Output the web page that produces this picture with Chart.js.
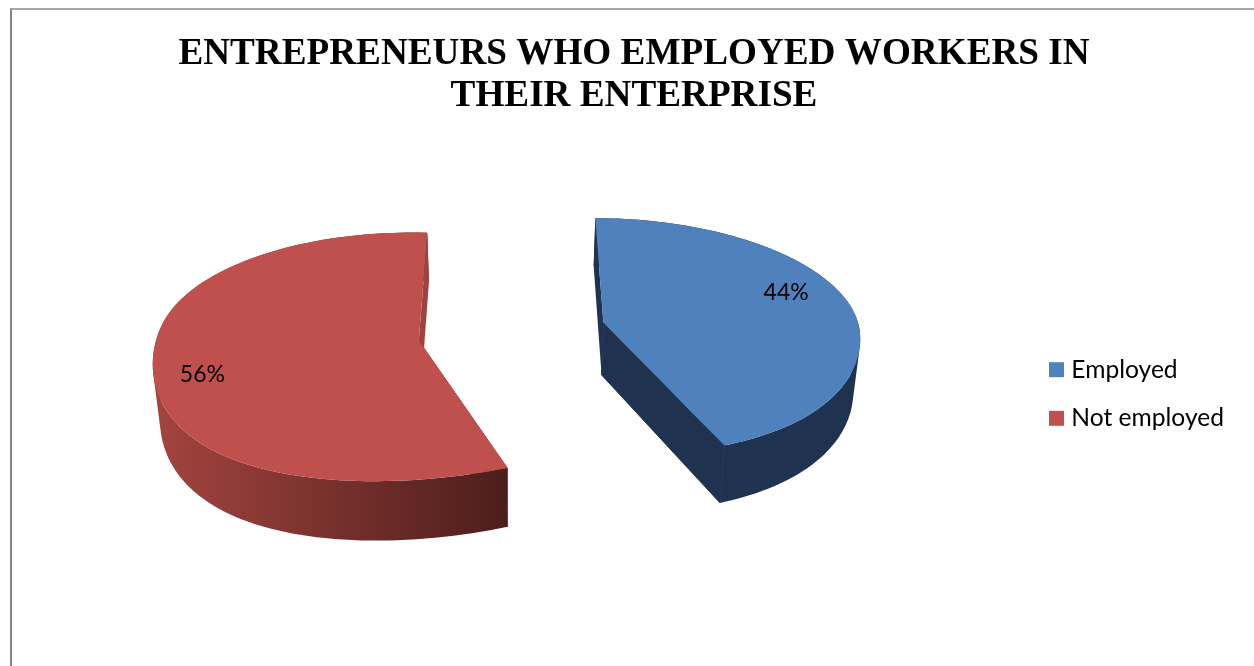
<!DOCTYPE html>
<html>
<head>
<meta charset="utf-8">
<script src="https://cdn.jsdelivr.net/npm/chart.js@4/dist/chart.umd.min.js"></script>
<style>
  html, body { margin: 0; padding: 0; background: #fff; overflow: hidden; }
  #frame { position: absolute; left: 10px; top: 8px; width: 1244px; height: 658px;
           border-left: 2px solid #868686; border-top: 2px solid #a6a6a6; box-sizing: border-box; }
  canvas { display: block; }
</style>
</head>
<body>
<div id="frame"><canvas id="pie" width="1242" height="656"></canvas></div>
<script>
const categories = ['Employed', 'Not employed'];
const shares = [44, 56];
const titleLines = ['ENTREPRENEURS WHO EMPLOYED WORKERS IN', 'THEIR ENTERPRISE'];
const topColors = ['#4f81bd', '#c0504d'];
const wallStart = ['#1f3350', '#a4443f'];
const wallEnd = ['#1f3350', '#4c1e1b'];
const cutWalls = ['#1f3350', '#a04340'];
const labelSpotU = [0.745, -0.775];
const labelSpotV = [-0.27, 0.295];

// Camera used to lay the flat pie down as a tilted disc with some thickness.
const view = {
  cx: 500, cy: 322.5,    // vanishing centre of the disc
  squash: 0.45,          // vertical foreshortening
  depth: 2650,           // perspective distance front-to-back
  side: 50000,           // perspective distance left-to-right
  thick: 53,             // height of the disc wall
  taper: 0.02,           // how much the lower rim narrows
  burst: 94,             // distance each slice is pulled out
  burstTilt: 1.28,       // front/back share of that pull
  flareX: 1.46e-6,       // widening of the near part of the disc
  skewX: 1.08e-4,        // lean of the near part of the disc
  dropNear: 5e-5,        // extra drop of the near part
  dropRight: 3.8e-7,     // extra drop of the near right part
  dropLeft: 5.4e-7,      // extra drop of the near left part
  liftLeft: 0.023,       // lift of the whole left side
  pinchLeft: 2.4e-5      // narrowing of the far left side
};

function project(u, v, lower) {
  const w = 1 - v / view.depth + u / view.side;
  const k = lower ? 1 - view.taper : 1;
  const near = Math.max(v, 0) ** 2;
  const rightward = Math.max(u, 0), leftward = Math.max(-u, 0);
  const du = u * near * view.flareX - near * view.skewX + leftward * leftward * view.pinchLeft;
  const dv = near * (view.dropNear + rightward * view.dropRight + leftward * view.dropLeft)
           - leftward * view.liftLeft;
  return {
    x: view.cx + ((u + du) * k) / w,
    y: view.cy + (view.squash * v + dv + (lower ? view.thick : 0)) / w
  };
}

function rimPoints(arc, origin, radius, lower) {
  const steps = 120, pts = [];
  for (let i = 0; i <= steps; i++) {
    const a = arc.startAngle + (arc.endAngle - arc.startAngle) * i / steps;
    pts.push(project(origin.u + radius * Math.cos(a), origin.v + radius * Math.sin(a), lower));
  }
  return pts;
}

function tracePath(ctx, pts) {
  ctx.beginPath();
  pts.forEach((p, i) => i ? ctx.lineTo(p.x, p.y) : ctx.moveTo(p.x, p.y));
  ctx.closePath();
}

// Curved wall as one path of small quads, all wound the same way so overlaps stay filled.
function traceWall(ctx, upper, lower) {
  ctx.beginPath();
  for (let i = 0; i < upper.length - 1; i++) {
    const quad = [upper[i], upper[i + 1], lower[i + 1], lower[i]];
    let area = 0;
    quad.forEach((p, j) => {
      const q = quad[(j + 1) % 4];
      area += p.x * q.y - q.x * p.y;
    });
    if (area < 0) quad.reverse();
    quad.forEach((p, j) => j ? ctx.lineTo(p.x, p.y) : ctx.moveTo(p.x, p.y));
    ctx.closePath();
  }
}

// Replaces the flat dataset drawing: walls first, then the top face and its label.
const tiltedPie = {
  id: 'tiltedPie',
  beforeDatasetDraw(chart, args) {
    const { ctx } = chart;
    args.meta.data.forEach((arc, i) => {
      const mid = (arc.startAngle + arc.endAngle) / 2;
      const origin = {
        u: view.burst * Math.cos(mid),
        v: view.burst * view.burstTilt * Math.sin(mid)
      };
      const R = arc.outerRadius;
      const upper = rimPoints(arc, origin, R, false);
      const lower = rimPoints(arc, origin, R, true);
      const apexUp = project(origin.u, origin.v, false);
      const apexLow = project(origin.u, origin.v, true);
      const last = upper.length - 1;
      const nearEnd = upper[0].y > upper[last].y ? 0 : last;
      const farEnd = last - nearEnd;

      ctx.save();
      // The cut face on the near side goes under the curved wall, the far one over it.
      ctx.fillStyle = ctx.strokeStyle = cutWalls[i];
      ctx.lineWidth = 1;
      tracePath(ctx, [apexUp, upper[nearEnd], lower[nearEnd], apexLow]);
      ctx.fill();
      ctx.stroke();

      const xs = upper.map(p => p.x);
      const left = Math.min(...xs), right = Math.max(...xs);
      const shade = ctx.createLinearGradient(left, 0, right, 0);
      shade.addColorStop(0, wallStart[i]);
      shade.addColorStop(1, wallEnd[i]);
      ctx.fillStyle = shade;
      traceWall(ctx, upper, lower);
      ctx.fill();

      ctx.fillStyle = cutWalls[i];
      tracePath(ctx, [apexUp, upper[farEnd], lower[farEnd], apexLow]);
      ctx.fill();

      ctx.fillStyle = topColors[i];
      tracePath(ctx, [apexUp].concat(upper));
      ctx.fill();

      const spot = project(origin.u + labelSpotU[i] * R, origin.v + labelSpotV[i] * R, false);
      ctx.fillStyle = '#000';
      ctx.font = '23px Lato';
      ctx.textAlign = 'center';
      ctx.textBaseline = 'middle';
      ctx.fillText(shares[i] + '%', spot.x, spot.y);
      ctx.restore();
    });
    return false;
  }
};

// Lowers the legend so that it sits beside the middle of the pie.
const legendDrop = {
  id: 'legendDrop',
  afterLayout(chart) {
    chart.legend.top += 56;
    chart.legend.bottom += 56;
  }
};

new Chart(document.getElementById('pie'), {
  type: 'pie',
  plugins: [tiltedPie, legendDrop],
  data: {
    labels: categories,
    datasets: [{ data: shares, backgroundColor: topColors, borderWidth: 0 }]
  },
  options: {
    responsive: false,
    animation: false,
    rotation: 0,
    radius: 259,
    layout: { padding: { left: 22, right: 20 } },
    plugins: {
      tooltip: { enabled: false },
      title: {
        display: true,
        text: titleLines,
        color: '#000',
        font: { family: '"Liberation Serif"', size: 37.2, weight: 'bold', lineHeight: 1.135 },
        padding: { top: 23, bottom: 10 }
      },
      legend: {
        position: 'right',
        labels: {
          color: '#000',
          font: { family: 'Lato', size: 24.6 },
          boxWidth: 5,
          boxHeight: 5,
          padding: 24,
          generateLabels: () => categories.map((text, i) => ({
            text, fillStyle: topColors[i], strokeStyle: topColors[i], lineWidth: 10, index: i
          }))
        }
      }
    }
  }
});
</script>
</body>
</html>
